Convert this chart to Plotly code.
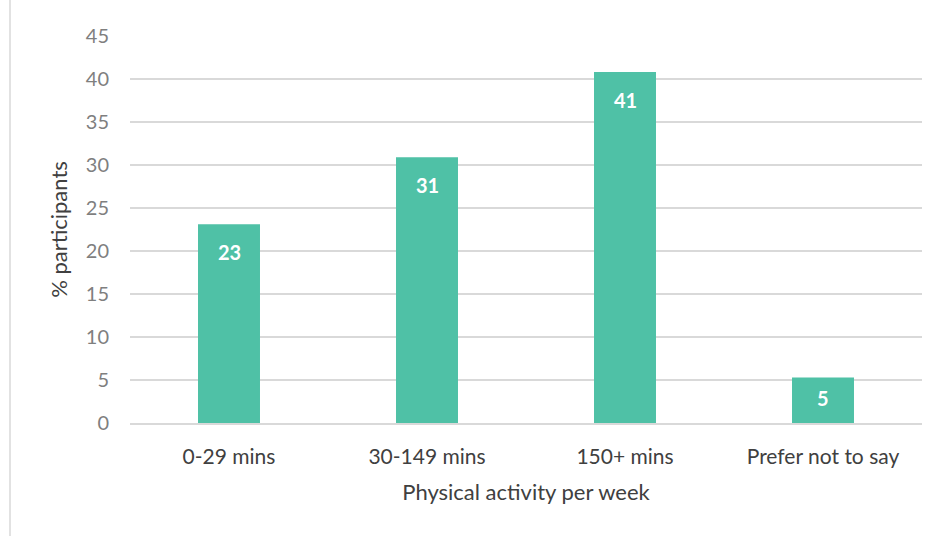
import plotly.graph_objects as go

categories = ["0-29 mins", "30-149 mins", "150+ mins", "Prefer not to say"]
values = [23.1, 30.9, 40.8, 5.3]
labels = ["23", "31", "41", "5"]
y_ticks = [0, 5, 10, 15, 20, 25, 30, 35, 40, 45]

L, R, T, B = 130, 18, 36, 113
W, H = 940, 536
pw = W - L - R
ph = H - T - B
y_max = 45
FONT = "Lato, Open Sans, sans-serif"

fig = go.Figure(go.Bar(
    x=categories, y=values,
    marker=dict(color="#4FC1A6", line=dict(width=0)),
))

for c, v, t in zip(categories, values, labels):
    bar_px = v / y_max * ph
    fig.add_annotation(x=c, y=v, text=f"<b>{t}</b>", showarrow=False,
                       yanchor="middle", yshift=-min(28, bar_px / 2 - 2),
                       font=dict(family=FONT, size=20, color="white"))

fig.update_layout(
    width=W, height=H,
    margin=dict(l=L, r=R, t=T, b=B),
    plot_bgcolor="white", paper_bgcolor="white",
    bargap=0.687,
    font=dict(family=FONT),
    showlegend=False,
)
fig.update_yaxes(
    range=[0, y_max], tickvals=y_ticks, showgrid=True, gridcolor="#d9d9d9", gridwidth=1.5,
    zeroline=False, showline=False, ticks="",
    tickfont=dict(size=20, color="#7f7f7f"), ticklabelstandoff=20,
    title=dict(text="% participants", font=dict(size=22, color="#404040"), standoff=12),
)
fig.update_xaxes(
    showline=True, linecolor="#d9d9d9", linewidth=1.5, ticks="",
    tickfont=dict(size=21, color="#404040"), ticklabelstandoff=14,
    title=dict(text="Physical activity per week", font=dict(size=22, color="#404040"), standoff=18),
)
fig.add_shape(type="line", xref="paper", yref="paper",
              x0=(10 - L) / pw, x1=(10 - L) / pw,
              y0=-(B) / ph, y1=(H - T - 10) / ph,
              line=dict(color="#d9d9d9", width=1.5))

fig.write_html("out.html")
